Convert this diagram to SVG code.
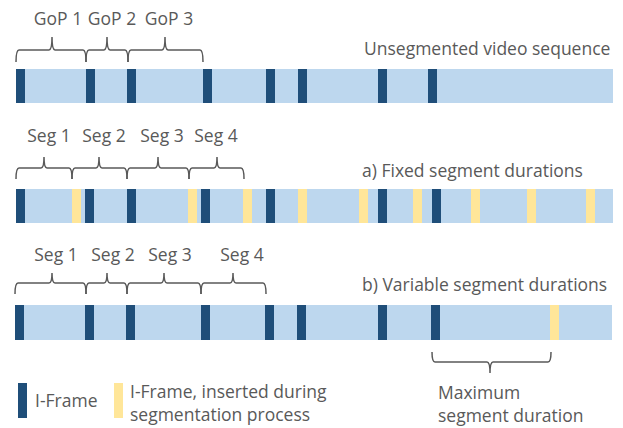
<svg xmlns="http://www.w3.org/2000/svg" width="623" height="428" viewBox="0 0 623 428">
<style>
.bar{fill:#BDD7EE}
.i{fill:#1F4E79}
.y{fill:#FFE699}
.t{font-family:"Open Sans","Liberation Sans",sans-serif;font-size:17.5px;fill:#595959}
.br{fill:none;stroke:#595959;stroke-width:1.5}
</style>
<rect width="623" height="428" fill="#fff"/>
<g id="row1">
<rect class="bar" x="16" y="69" width="597" height="34"/>
<rect class="i" x="16" y="69" width="9" height="34"/>
<rect class="i" x="86" y="69" width="9" height="34"/>
<rect class="i" x="127" y="69" width="9" height="34"/>
<rect class="i" x="203" y="69" width="9" height="34"/>
<rect class="i" x="266" y="69" width="9" height="34"/>
<rect class="i" x="298" y="69" width="9" height="34"/>
<rect class="i" x="378" y="69" width="9" height="34"/>
<rect class="i" x="428" y="69" width="9" height="34"/>
<text class="t" x="364" y="55">Unsegmented video sequence</text>
</g>
<g id="gops">
<path class="br" d="M16,62 Q16,50 19,50 L49,50 Q52,50 52,37 Q52,50 55,50 L83,50 Q86,50 86,62"/>
<path class="br" d="M86,62 Q86,50 89,50 L104,50 Q107,50 107,37 Q107,50 110,50 L125,50 Q128,50 128,62"/>
<path class="br" d="M128,62 Q128,50 131,50 L162,50 Q165,50 165,37 Q165,50 168,50 L200,50 Q203,50 203,62"/>
<text class="t" x="58" y="25" text-anchor="middle">GoP 1</text>
<text class="t" x="112" y="25" text-anchor="middle">GoP 2</text>
<text class="t" x="169" y="25" text-anchor="middle">GoP 3</text>
</g>
<g id="row2">
<rect class="bar" x="16" y="189" width="597" height="34"/>
<rect class="i" x="16" y="189" width="9" height="34"/>
<rect class="i" x="85" y="189" width="9" height="34"/>
<rect class="i" x="127" y="189" width="9" height="34"/>
<rect class="i" x="201" y="189" width="9" height="34"/>
<rect class="i" x="266" y="189" width="9" height="34"/>
<rect class="i" x="378" y="189" width="9" height="34"/>
<rect class="i" x="432" y="189" width="9" height="34"/>
<rect class="y" x="72" y="189" width="9" height="34"/>
<rect class="y" x="188" y="189" width="9" height="34"/>
<rect class="y" x="243" y="189" width="9" height="34"/>
<rect class="y" x="298" y="189" width="9" height="34"/>
<rect class="y" x="359" y="189" width="9" height="34"/>
<rect class="y" x="413" y="189" width="9" height="34"/>
<rect class="y" x="471" y="189" width="9" height="34"/>
<rect class="y" x="527" y="189" width="9" height="34"/>
<rect class="y" x="586" y="189" width="9" height="34"/>
<text class="t" x="362" y="177">a) Fixed segment durations</text>
</g>
<g id="segs-a">
<path class="br" d="M16,179 Q16,168 19,168 L41,168 Q44,168 44,157 Q44,168 47,168 L69,168 Q72,168 72,179"/>
<path class="br" d="M72,179 Q72,168 75,168 L96,168 Q99,168 99,157 Q99,168 102,168 L124,168 Q127,168 127,179"/>
<path class="br" d="M127,179 Q127,168 130,168 L155,168 Q158,168 158,157 Q158,168 161,168 L186,168 Q189,168 189,179"/>
<path class="br" d="M189,179 Q189,168 192,168 L214,168 Q217,168 217,157 Q217,168 220,168 L241,168 Q244,168 244,179"/>
<text class="t" x="49" y="142" text-anchor="middle">Seg 1</text>
<text class="t" x="104" y="142" text-anchor="middle">Seg 2</text>
<text class="t" x="162" y="142" text-anchor="middle">Seg 3</text>
<text class="t" x="216" y="142" text-anchor="middle">Seg 4</text>
</g>
<g id="row3">
<rect class="bar" x="15" y="305" width="597" height="35"/>
<rect class="i" x="15" y="305" width="9" height="35"/>
<rect class="i" x="85" y="305" width="9" height="35"/>
<rect class="i" x="126" y="305" width="9" height="35"/>
<rect class="i" x="201" y="305" width="9" height="35"/>
<rect class="i" x="265" y="305" width="9" height="35"/>
<rect class="i" x="297" y="305" width="9" height="35"/>
<rect class="i" x="378" y="305" width="9" height="35"/>
<rect class="i" x="431" y="305" width="9" height="35"/>
<rect class="y" x="550" y="305" width="9" height="35"/>
<text class="t" x="362" y="291">b) Variable segment durations</text>
</g>
<g id="segs-b">
<path class="br" d="M15,294 Q15,283 18,283 L49,283 Q52,283 52,273 Q52,283 55,283 L83,283 Q86,283 86,294"/>
<path class="br" d="M86,294 Q86,283 89,283 L104,283 Q107,283 107,273 Q107,283 110,283 L124,283 Q127,283 127,294"/>
<path class="br" d="M127,294 Q127,283 130,283 L161,283 Q164,283 164,273 Q164,283 167,283 L198,283 Q201,283 201,294"/>
<path class="br" d="M201,294 Q201,283 204,283 L230,283 Q233,283 233,273 Q233,283 236,283 L263,283 Q266,283 266,294"/>
<text class="t" x="56" y="261" text-anchor="middle">Seg 1</text>
<text class="t" x="113" y="261" text-anchor="middle">Seg 2</text>
<text class="t" x="170" y="261" text-anchor="middle">Seg 3</text>
<text class="t" x="242" y="261" text-anchor="middle">Seg 4</text>
</g>
<g id="max-duration">
<path class="br" d="M432,352 Q432,362 435,362 L487,362 Q490,362 490,373 Q490,362 493,362 L548,362 Q551,362 551,352"/>
<text class="t" x="438" y="399">Maximum</text>
<text class="t" x="438" y="422">segment duration</text>
</g>
<g id="legend-iframe">
<rect class="i" x="18" y="383" width="9" height="35"/>
<text class="t" x="35" y="407">I-Frame</text>
</g>
<g id="legend-inserted">
<rect class="y" x="114" y="383" width="9" height="35"/>
<text class="t" x="130" y="398">I-Frame, inserted during</text>
<text class="t" x="130" y="421">segmentation process</text>
</g>
</svg>
